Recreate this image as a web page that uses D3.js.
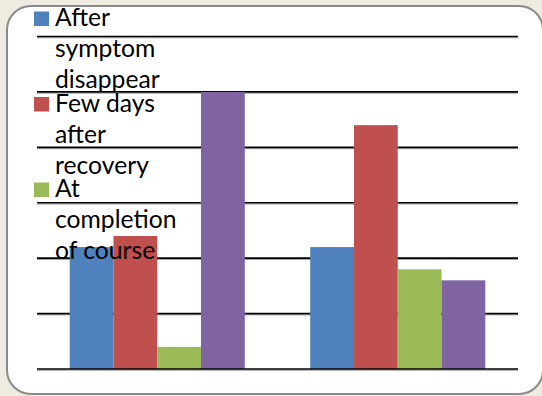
<!DOCTYPE html>
<html>
<head>
<meta charset="utf-8">
<script src="https://cdn.jsdelivr.net/npm/d3@7"></script>
<style>
  html, body { margin: 0; padding: 0; background: #eeece1; }
  svg { display: block; }
</style>
</head>
<body>
<svg id="chart" width="542" height="396"></svg>
<script>
// Chart data
const categories = ["Group 1", "Group 2"];
const seriesNames = ["After symptom disappear", "Few days after recovery", "At completion of course", "Series 4"];
const legendLines = [["After", "symptom", "disappear"], ["Few days", "after", "recovery"], ["At", "completion", "of course"]];
const valuesAfterSymptom = [2.2, 2.2];
const valuesFewDays = [2.4, 4.4];
const valuesCompletion = [0.4, 1.8];
const valuesSeries4 = [5.0, 1.6];
const yTicks = [0, 1, 2, 3, 4, 5, 6];
const colors = ["#4f81bd", "#c0504d", "#9bbb59", "#8064a2"];

const seriesValues = [valuesAfterSymptom, valuesFewDays, valuesCompletion, valuesSeries4];
const rows = categories.map((c, i) => ({
  category: c,
  bars: seriesNames.map((s, j) => ({ series: s, value: seriesValues[j][i], color: colors[j] }))
}));

const svg = d3.select("#chart");

// Rounded white chart panel
svg.append("rect")
  .attr("x", 7).attr("y", 6)
  .attr("width", 536).attr("height", 388)
  .attr("rx", 24).attr("ry", 24)
  .attr("fill", "#ffffff")
  .attr("stroke", "#8a8a8a")
  .attr("stroke-width", 2);

const plotLeft = 37, plotRight = 518, plotTop = 36.5, plotBottom = 369;

const y = d3.scaleLinear().domain([0, 6]).range([plotBottom, plotTop]);
const x0 = d3.scaleBand().domain(categories).range([plotLeft, plotRight])
  .paddingInner(0.272).paddingOuter(0.136);
const x1 = d3.scaleBand().domain(seriesNames).range([0, x0.bandwidth()]).padding(0);

// Horizontal gridlines (shadowed black rules)
const grid = svg.append("g");
function drawRule(g, v) {
  g.append("line")
    .attr("x1", plotLeft).attr("x2", plotRight)
    .attr("y1", y(v) + 1.3).attr("y2", y(v) + 1.3)
    .attr("stroke", "#a0a0a0").attr("stroke-width", 1);
  g.append("line")
    .attr("x1", plotLeft).attr("x2", plotRight)
    .attr("y1", y(v)).attr("y2", y(v))
    .attr("stroke", "#000").attr("stroke-width", 1.6);
}
yTicks.filter(v => v > 0).forEach(v => drawRule(grid, v));

// Bars
const groups = svg.append("g").selectAll("g")
  .data(rows).join("g")
  .attr("transform", d => `translate(${x0(d.category)},0)`);
groups.selectAll("rect")
  .data(d => d.bars).join("rect")
  .attr("x", d => x1(d.series))
  .attr("y", d => y(d.value))
  .attr("width", x1.bandwidth())
  .attr("height", d => y(0) - y(d.value))
  .attr("fill", d => d.color);

// Baseline drawn over the bars
drawRule(svg.append("g"), 0);

// Legend (overlaps the plot)
const legend = svg.append("g").attr("font-family", "Lato, 'Open Sans', sans-serif")
  .attr("font-size", 24.7).attr("fill", "#000");
legendLines.forEach((lines, i) => {
  const base = 26 + i * 85.5;
  legend.append("rect")
    .attr("x", 34).attr("y", base - 14.5)
    .attr("width", 15).attr("height", 14.5)
    .attr("fill", colors[i]);
  lines.forEach((t, k) => {
    legend.append("text")
      .attr("x", 55).attr("y", base + k * 31)
      .text(t);
  });
});
</script>
</body>
</html>
